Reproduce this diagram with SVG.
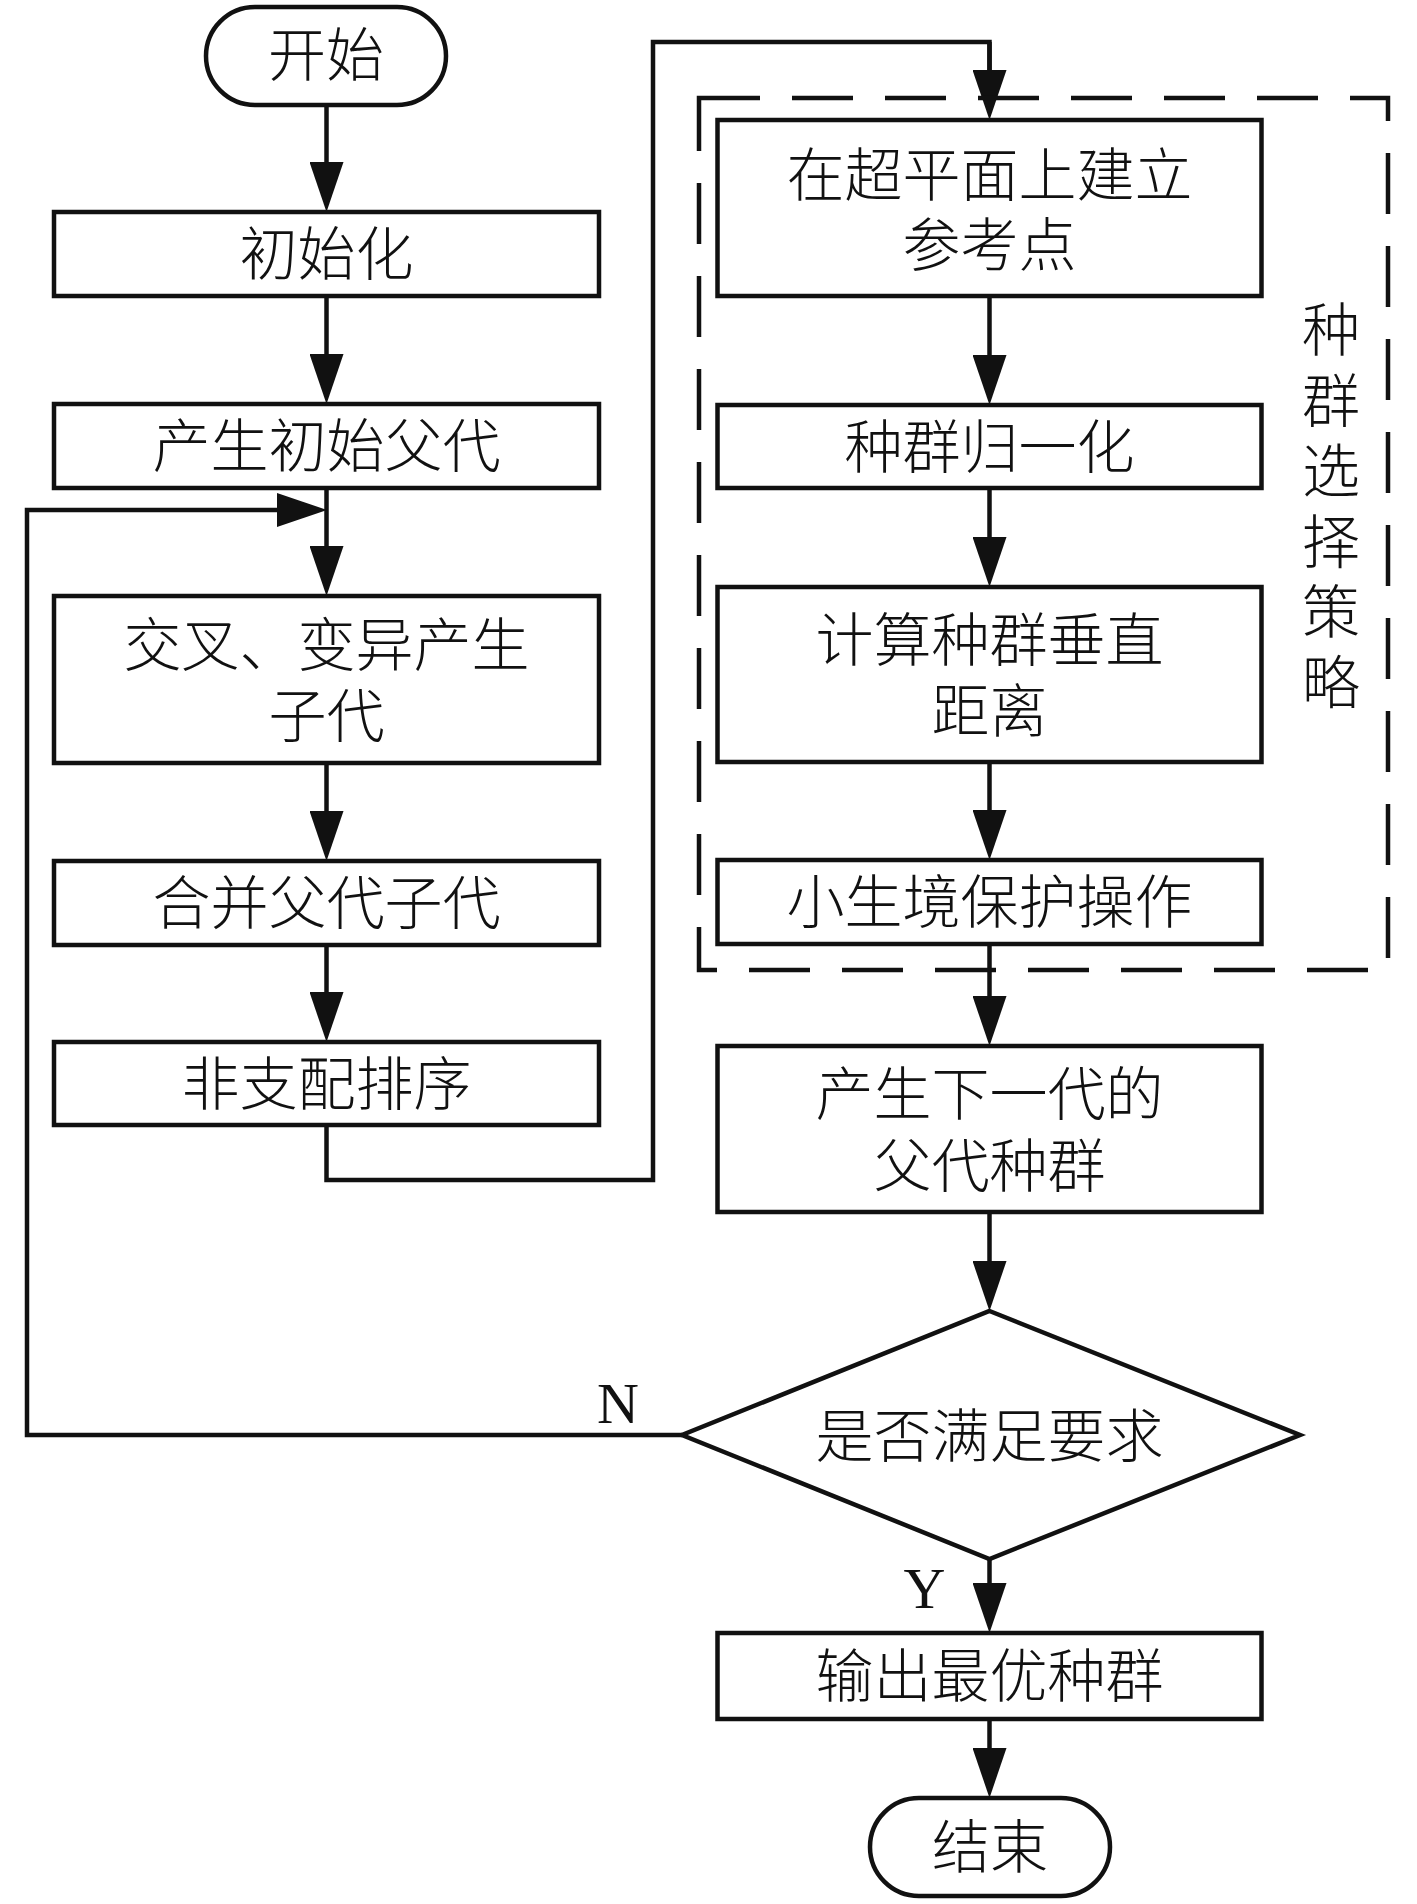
<svg xmlns="http://www.w3.org/2000/svg" width="1417" height="1904" viewBox="0 0 1417 1904">
<style>
.n{fill:#fff;stroke:#111;stroke-width:4.5}
.t{font-family:"Liberation Serif","Noto Sans CJK SC",serif;font-size:58px;font-weight:300;fill:#111;text-anchor:middle}
.l{font-family:"Liberation Serif","Noto Sans CJK SC",serif;font-size:58px;fill:#111;text-anchor:middle}
.c{fill:none;stroke:#111;stroke-width:4.5}
.a{marker-end:url(#ah)}
.d{fill:none;stroke:#111;stroke-width:4.5;stroke-dasharray:61 32}
</style>
<defs>
<marker id="ah" markerUnits="userSpaceOnUse" markerWidth="50" markerHeight="34" refX="40" refY="17" orient="auto" viewBox="0 0 50 34">
<path d="M0,0 L50,17 L0,34 z" fill="#111"/>
</marker>
</defs>
<rect width="1417" height="1904" fill="#fff"/>
<g id="connectors">
<path class="c a" d="M326.5,105 V202"/>
<path class="c a" d="M326.5,296 V394"/>
<path class="c a" d="M326.5,488 V586"/>
<path class="c a" d="M326.5,763 V851"/>
<path class="c a" d="M326.5,945 V1032"/>
<path class="c" d="M326.5,1125 V1180 H653 V42 H989.5 V110"/>
<path class="c a" d="M989.5,42 V110"/>
<path class="c a" d="M989.5,296 V395"/>
<path class="c a" d="M989.5,488 V577"/>
<path class="c a" d="M989.5,762 V850"/>
<path class="c a" d="M989.5,944 V1036"/>
<path class="c a" d="M989.5,1212 V1301"/>
<path class="c a" d="M989.5,1559 V1623"/>
<path class="c a" d="M989.5,1719 V1788"/>
<path class="c a" d="M682,1435 H27 V510 H317"/>
</g>
<g id="selection-strategy">
<rect class="d" x="699" y="98" width="689" height="872"/>
<text class="t" x="1331"><tspan x="1331" y="351">种</tspan><tspan x="1331" y="422">群</tspan><tspan x="1331" y="492">选</tspan><tspan x="1331" y="563">择</tspan><tspan x="1331" y="633">策</tspan><tspan x="1331" y="704">略</tspan></text>
</g>
<g id="start">
<rect class="n" x="206" y="7" width="240" height="98" rx="49" ry="49"/>
<text class="t" x="326" y="76">开始</text>
</g>
<g id="init">
<rect class="n" x="54" y="212" width="545" height="84"/>
<text class="t" x="326.5" y="275">初始化</text>
</g>
<g id="initial-parents">
<rect class="n" x="54" y="404" width="545" height="84"/>
<text class="t" x="326.5" y="467">产生初始父代</text>
</g>
<g id="crossover">
<rect class="n" x="54" y="596" width="545" height="167"/>
<text class="t" x="326.5" y="666">交叉、变异产生</text>
<text class="t" x="326.5" y="737">子代</text>
</g>
<g id="merge">
<rect class="n" x="54" y="861" width="545" height="84"/>
<text class="t" x="326.5" y="924">合并父代子代</text>
</g>
<g id="nds">
<rect class="n" x="54" y="1042" width="545" height="83"/>
<text class="t" x="326.5" y="1105">非支配排序</text>
</g>
<g id="reference-points">
<rect class="n" x="717.5" y="120" width="544" height="176"/>
<text class="t" x="989.5" y="196">在超平面上建立</text>
<text class="t" x="989.5" y="266">参考点</text>
</g>
<g id="normalize">
<rect class="n" x="717.5" y="405" width="544" height="83"/>
<text class="t" x="989.5" y="468">种群归一化</text>
</g>
<g id="distance">
<rect class="n" x="717.5" y="587" width="544" height="175"/>
<text class="t" x="989.5" y="661">计算种群垂直</text>
<text class="t" x="989.5" y="732">距离</text>
</g>
<g id="niche">
<rect class="n" x="717.5" y="860" width="544" height="84"/>
<text class="t" x="989.5" y="923">小生境保护操作</text>
</g>
<g id="next-gen">
<rect class="n" x="717.5" y="1046" width="544" height="166"/>
<text class="t" x="989.5" y="1115">产生下一代的</text>
<text class="t" x="989.5" y="1187">父代种群</text>
</g>
<g id="decision">
<polygon class="n" points="989.5,1311 1300,1435 989.5,1559 682,1435"/>
<text class="t" x="989.5" y="1457">是否满足要求</text>
<text class="l" x="618" y="1423">N</text>
<text class="l" x="924.5" y="1608">Y</text>
</g>
<g id="output">
<rect class="n" x="717.5" y="1633" width="544" height="86"/>
<text class="t" x="989.5" y="1697">输出最优种群</text>
</g>
<g id="end">
<rect class="n" x="870" y="1798" width="240" height="98" rx="49" ry="49"/>
<text class="t" x="990" y="1868">结束</text>
</g>
</svg>
